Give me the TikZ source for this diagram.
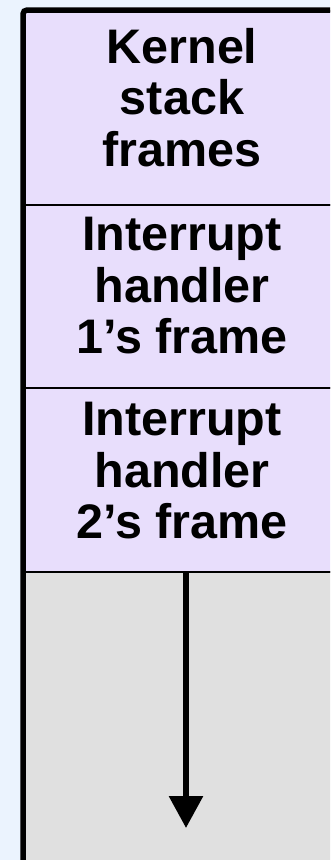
\documentclass[tikz,border=0pt]{standalone}
\usepackage{fontspec}
\setmainfont{Liberation Sans}
\usetikzlibrary{arrows.meta}
\definecolor{bgblue}{RGB}{235,243,254}
\definecolor{lav}{RGB}{232,222,252}
\definecolor{lgray}{RGB}{224,224,224}
\tikzset{
  slab/.style={draw=black, line width=2pt, fill=#1, inner sep=0pt, anchor=north west, minimum width=322pt},
  lbl/.style={align=center, inner sep=0pt, anchor=north, font=\fontsize{48.5}{51.5}\selectfont\bfseries},
  frame/.style={draw=black, line width=5.5pt, rounded corners=4pt},
  growarrow/.style={draw=black, line width=6pt, -{Triangle[width=33pt,length=32pt]}}
}
\begin{document}
\begin{tikzpicture}[x=1pt,y=1pt]
\useasboundingbox (0,0) rectangle (330,-860);
\clip (0,0) rectangle (330,-860);
\fill[bgblue] (0,0) rectangle (330,-860);
\node[slab=lav, minimum height=194pt] (b1) at (23,-10) {};
\node[slab=lav, minimum height=183pt] (b2) at (23,-204) {};
\node[slab=lav, minimum height=184pt] (b3) at (23,-387) {};
\node[slab=lgray, minimum height=299pt] (b4) at (23,-571) {};
\node[lbl] (t1) at (182,-28) {Kernel\\stack\\frames};
\node[lbl] (t2) at (182,-217) {Interrupt\\handler\\1’s frame};
\node[lbl] (t3) at (182,-402) {Interrupt\\handler\\2’s frame};
\coordinate (tip) at (186,-828);
\draw[growarrow] (tip |- b3.south) -- (tip);
\draw[frame] (23,-880) -- (23,-10) -- (360,-10);
\end{tikzpicture}
\end{document}
